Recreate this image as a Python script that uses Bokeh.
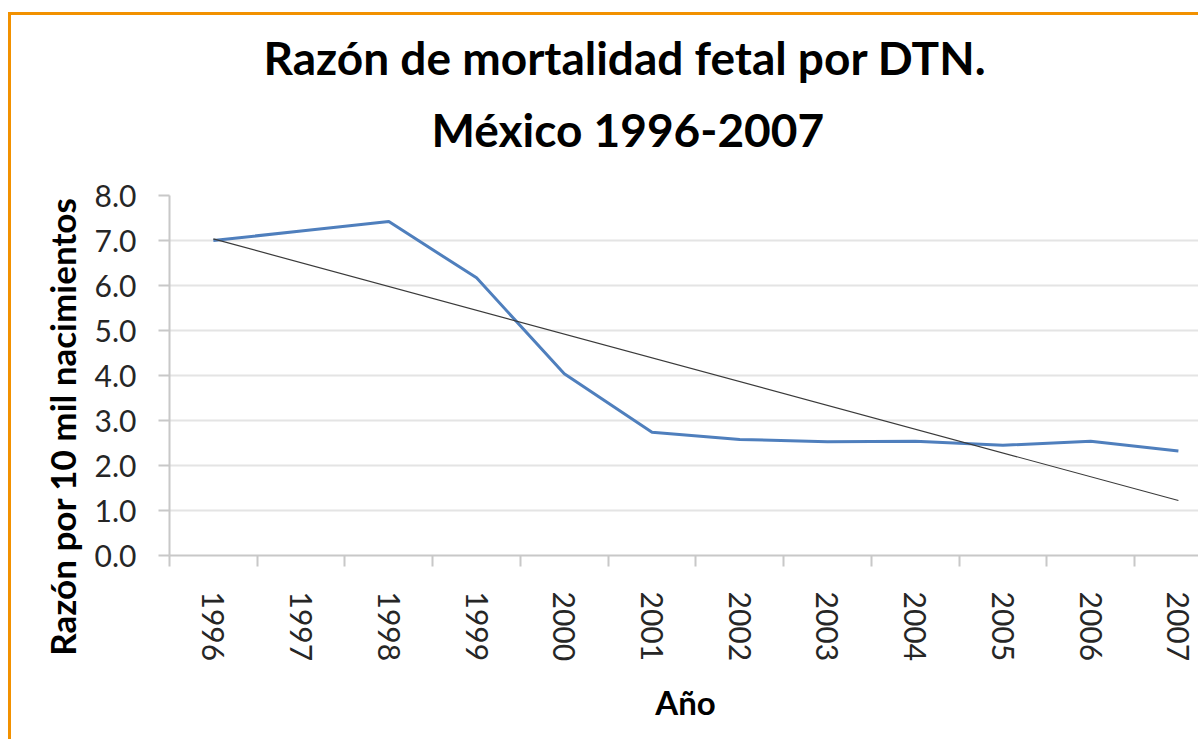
import numpy as np
from bokeh.plotting import figure
from bokeh.models import Range1d, FixedTicker, Title, NumeralTickFormatter
from bokeh.embed import file_html
from bokeh.resources import INLINE

# ---- data ----
years = [1996, 1997, 1998, 1999, 2000, 2001, 2002, 2003, 2004, 2005, 2006, 2007]
razon = [7.00, 7.21, 7.42, 6.17, 4.04, 2.74, 2.58, 2.53, 2.54, 2.45, 2.54, 2.32]
y_ticks = [0, 1, 2, 3, 4, 5, 6, 7, 8]

title_1 = "Razón de mortalidad fetal por DTN."
title_2 = "México 1996-2007"
y_title = "Razón por 10 mil nacimientos"
x_title = "Año"

# linear trend line (least squares on the series)
slope, intercept = np.polyfit(years, razon, 1)
trend_x = [years[0], years[-1]]
trend_y = [slope * x + intercept for x in trend_x]

# ---- layout ----
W, H = 1190, 727
ML, MT, MB, MR = 158, 180, 187, 0
PX_PER_YEAR = 87.73
frame_w = W - ML - MR
x0 = years[0] - 0.5
x1 = x0 + frame_w / PX_PER_YEAR

FONT = "Lato"
TXT = "#262626"

p = figure(width=W, height=H, output_backend="svg", toolbar_location=None,
           x_range=Range1d(x0, x1), y_range=Range1d(0, 8),
           min_border_left=ML, min_border_top=MT, min_border_bottom=MB,
           min_border_right=MR, title=None)
p.margin = (12, 0, 0, 8)
p.styles = {"border-left": "3px solid #F29100", "border-top": "3px solid #F29100"}
p.outline_line_color = None
p.background_fill_color = "white"
p.border_fill_color = "white"

# grid
p.xgrid.grid_line_color = None
p.ygrid.grid_line_color = "#e4e4e4"
p.ygrid.grid_line_width = 2

# y axis
yax = p.yaxis[0]
yax.ticker = FixedTicker(ticks=y_ticks, minor_ticks=[])
yax.formatter = NumeralTickFormatter(format="0.0")
yax.axis_line_color = "#c8c8c8"
yax.axis_line_width = 2
yax.major_tick_line_color = "#c8c8c8"
yax.major_tick_line_width = 2
yax.major_tick_out = 11
yax.major_tick_in = 0
yax.major_label_standoff = 22
yax.major_label_text_font = FONT
yax.major_label_text_font_size = "30px"
yax.major_label_text_color = TXT

# x axis
xax = p.xaxis[0]
xax.ticker = FixedTicker(ticks=years, minor_ticks=[y - 0.5 for y in years] + [years[-1] + 0.5])
xax.formatter = NumeralTickFormatter(format="0")
xax.axis_line_color = "#c8c8c8"
xax.axis_line_width = 2
xax.major_tick_out = 0
xax.major_tick_in = 0
xax.major_tick_line_color = None
xax.minor_tick_line_color = "#c8c8c8"
xax.minor_tick_line_width = 2
xax.minor_tick_out = 11
xax.minor_tick_in = 0
xax.major_label_orientation = "vertical"
xax.major_label_standoff = 25
xax.major_label_text_font = FONT
xax.major_label_text_font_size = "30px"
xax.major_label_text_color = TXT
xax.axis_label = x_title
xax.axis_label_standoff = 18
xax.axis_label_text_font = FONT
xax.axis_label_text_font_style = "bold"
xax.axis_label_text_font_size = "33px"
xax.axis_label_text_color = "black"

# series
p.line(years, razon, line_color="#4F7FBD", line_width=3)
p.line(trend_x, trend_y, line_color="#3a3a3a", line_width=1.2)

# titles (line 2 added first: closest to the plot)
p.add_layout(Title(text=title_2, align="left", offset=262, standoff=77,
                   text_font=FONT, text_font_style="bold", text_font_size="46px",
                   text_color="black"), "above")
p.add_layout(Title(text=title_1, align="left", offset=94, standoff=-47,
                   text_font=FONT, text_font_style="bold", text_font_size="46px",
                   text_color="black"), "above")

# y axis title
p.add_layout(Title(text=y_title, align="right", offset=2, standoff=18,
                   text_font=FONT, text_font_style="bold", text_font_size="35px",
                   text_color="black"), "left")

open("out.html", "w").write(file_html(p, INLINE))
